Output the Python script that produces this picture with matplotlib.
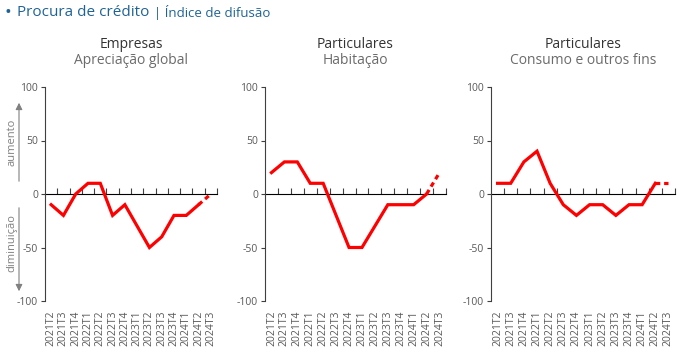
import numpy as np
import matplotlib.pyplot as plt

plt.rcParams['font.family'] = ['Open Sans', 'DejaVu Sans']

# Quarters (2021T2 .. 2024T3)
quarters = ["2021T2", "2021T3", "2021T4", "2022T1", "2022T2", "2022T3", "2022T4",
            "2023T1", "2023T2", "2023T3", "2023T4", "2024T1", "2024T2", "2024T3"]

# Diffusion index values; last point is an expectation (dashed)
empresas = [-10, -20, 0, 10, 10, -20, -10, -30, -50, -40, -20, -20, -10, 0]
habitacao = [20, 30, 30, 10, 10, -20, -50, -50, -30, -10, -10, -10, 0, 20]
consumo = [10, 10, 30, 40, 10, -10, -20, -10, -10, -20, -10, -10, 10, 10]

titles = ["Empresas", "Particulares", "Particulares"]
subtitles = ["Apreciação global", "Habitação", "Consumo e outros fins"]
series = [empresas, habitacao, consumo]

W, H = 680, 357
fig = plt.figure(figsize=(W / 100, H / 100), dpi=100)

# axes boxes in pixels: left, right, top, bottom
boxes = [(45, 217, 87, 301), (265, 446, 87, 301), (491, 675, 87, 301)]

txt_gray = "#595959"
axis_gray = "#404040"
red = "#ff0000"

x = np.arange(len(quarters))
for box, vals, t, st in zip(boxes, series, titles, subtitles):
    l, r, tp, b = box
    ax = fig.add_axes([l / W, 1 - b / H, (r - l) / W, (b - tp) / H])
    ax.plot(x[:-1], vals[:-1], color=red, lw=2.3, solid_joinstyle='miter')
    ax.plot(x[-2:], vals[-2:], color=red, lw=2.3, linestyle=(0, (1.5, 1.2)))
    ax.set_xlim(-0.5, len(quarters) - 0.5)
    ax.set_ylim(-100, 100)
    ax.set_yticks([-100, -50, 0, 50, 100])
    ax.set_yticklabels(["-100", "-50", "0", "50", "100"])
    for s in ["top", "right", "bottom"]:
        ax.spines[s].set_visible(False)
    ax.spines["left"].set_color(axis_gray)
    ax.spines["left"].set_linewidth(0.8)
    ax.tick_params(axis="y", length=3, width=0.8, color=axis_gray,
                   labelsize=7.5, labelcolor=txt_gray, pad=2)
    ax.set_xticks(x)
    ax.set_xticklabels(quarters, rotation=90, fontsize=7.5, color=txt_gray)
    ax.tick_params(axis="x", length=0, pad=7)
    # zero line with ticks between categories
    sec = ax.secondary_xaxis(0.5)
    sec.spines["bottom"].set_color(axis_gray)
    sec.spines["bottom"].set_linewidth(0.8)
    sec.set_xticks(x + 0.5)
    sec.set_xticklabels([])
    sec.tick_params(axis="x", length=4, width=0.8, color=axis_gray, direction="out")
    cx = (l + r) / 2 / W
    fig.text(cx, 1 - 45 / H, t, ha="center", va="center", fontsize=10, color="#333333")
    fig.text(cx, 1 - 60 / H, st, ha="center", va="center", fontsize=10, color="#6b6b6b")

# main title
fig.text(5 / W, 1 - 13 / H, "•", ha="left", va="center", fontsize=13, color="#1f6396")
fig.text(17 / W, 1 - 12 / H, "Procura de crédito", ha="left", va="center",
         fontsize=11, color="#1f6396")
fig.text(154 / W, 1 - 12.5 / H, "| Índice de difusão", ha="left", va="center",
         fontsize=9.5, color="#1f6396")

# direction annotations
arr_gray = "#808080"
fig.add_artist(plt.Annotation("", xy=(19, H - 100), xytext=(19, H - 184),
                              xycoords="figure pixels", textcoords="figure pixels",
                              arrowprops=dict(arrowstyle="-|>", color=arr_gray, lw=0.8,
                                              mutation_scale=10)))
fig.add_artist(plt.Annotation("", xy=(19, H - 294), xytext=(19, H - 205),
                              xycoords="figure pixels", textcoords="figure pixels",
                              arrowprops=dict(arrowstyle="-|>", color=arr_gray, lw=0.8,
                                              mutation_scale=10)))
fig.text(12 / W, 1 - 142 / H, "aumento", rotation=90, ha="center", va="center",
         fontsize=8, color=arr_gray)
fig.text(12 / W, 1 - 243 / H, "diminuição", rotation=90, ha="center", va="center",
         fontsize=8, color=arr_gray)

fig.savefig("out.png", dpi=100)
